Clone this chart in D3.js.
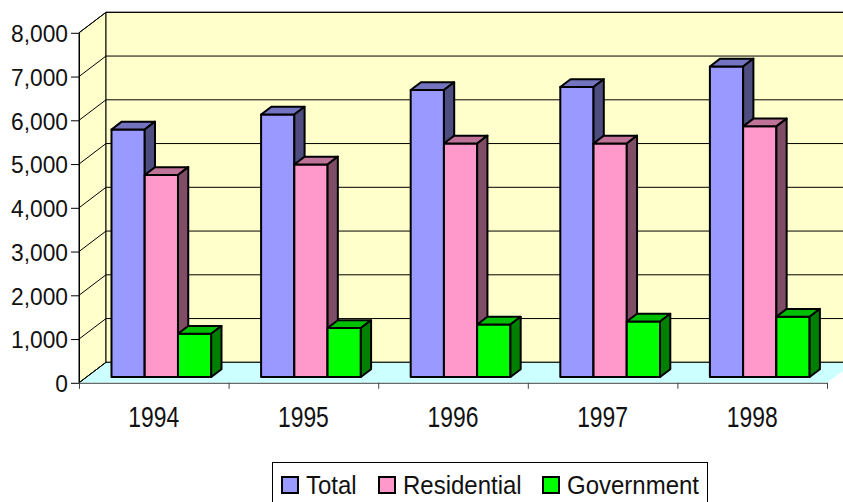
<!DOCTYPE html>
<html>
<head>
<meta charset="utf-8">
<script src="https://cdn.jsdelivr.net/npm/d3@7"></script>
<style>
  body { margin: 0; background: #fff; }
  svg { display: block; }
  text { font-family: "Liberation Sans", Arial, sans-serif; fill: #111; }
</style>
</head>
<body>
<svg id="chart" width="843" height="502"></svg>
<script>
// chart data
const years = ["1994", "1995", "1996", "1997", "1998"];
const seriesNames = ["Total", "Residential", "Government"];
const total = [5660, 6000, 6560, 6630, 7100];
const residential = [4620, 4860, 5340, 5340, 5730];
const government = [990, 1120, 1200, 1270, 1380];
const yTicks = [0, 1000, 2000, 3000, 4000, 5000, 6000, 7000, 8000];

const seriesValues = [total, residential, government];
const colors = ["#9999FF", "#FF99CC", "#00FF00"];

const svg = d3.select("#chart");

// oblique depth of the plot box
const DX = 27, DY = 20.5;
const P = (x, y, z) => [x + DX * z, y - DY * z];

const x0 = d3.scaleBand().domain(years).range([79, 827]).paddingInner(0).paddingOuter(0);
const x1 = d3.scaleBand().domain(seriesNames).range([0, x0.bandwidth()])
  .paddingInner(0).paddingOuter(0.75);
const y = d3.scaleLinear().domain([0, 8000]).range([382.8, 32.8]);

const left = x0.range()[0], right = x0.range()[1];
const yMin = y(0), yMax = y(8000);
const poly = pts => pts.map(p => p.join(",")).join(" ");

// side wall
svg.append("polygon")
  .attr("points", poly([P(left, yMax, 0), P(left, yMax, 1), P(left, yMin, 1), P(left, yMin, 0)]))
  .attr("fill", "#FFFFCC").attr("stroke", "#000").attr("stroke-width", 1);

// back wall
svg.append("polygon")
  .attr("points", poly([P(left, yMax, 1), P(right, yMax, 1), P(right, yMin, 1), P(left, yMin, 1)]))
  .attr("fill", "#FFFFCC").attr("stroke", "#000").attr("stroke-width", 1);

// floor
svg.append("polygon")
  .attr("points", poly([P(left, yMin, 0), P(left, yMin, 1), P(right, yMin, 1), P(right, yMin, 0)]))
  .attr("fill", "#CCFFFF").attr("stroke", "none");

// gridlines on back and side walls
const grid = svg.append("g").attr("stroke", "#000").attr("stroke-width", 1).attr("fill", "none");
yTicks.forEach(t => {
  const a = P(left, y(t), 0), b = P(left, y(t), 1), c = P(right, y(t), 1);
  grid.append("polyline").attr("points", poly([a, b, c]));
});

// floor left edge
svg.append("line")
  .attr("x1", P(left, yMin, 0)[0]).attr("y1", P(left, yMin, 0)[1])
  .attr("x2", P(left, yMin, 1)[0]).attr("y2", P(left, yMin, 1)[1])
  .attr("stroke", "#000");

// bars
const z0 = 0.28, z1 = 0.66;
const shade = (c, k) => {
  const r = d3.rgb(c);
  return d3.rgb(r.r * k, r.g * k, r.b * k).formatHex();
};

const bars = svg.append("g").attr("stroke", "#000").attr("stroke-width", 2).attr("stroke-linejoin", "round");
years.forEach((yr, i) => {
  seriesNames.forEach((s, j) => {
    const v = seriesValues[j][i];
    const xa = x0(yr) + x1(s), xb = xa + x1.bandwidth();
    const yt = y(v), yb = y(0);
    const g = bars.append("g");
    g.append("polygon")
      .attr("points", poly([P(xa, yt, z0), P(xb, yt, z0), P(xb, yb, z0), P(xa, yb, z0)]))
      .attr("fill", colors[j]);
    g.append("polygon")
      .attr("points", poly([P(xa, yt, z0), P(xa, yt, z1), P(xb, yt, z1), P(xb, yt, z0)]))
      .attr("fill", shade(colors[j], 0.75));
    g.append("polygon")
      .attr("points", poly([P(xb, yt, z0), P(xb, yt, z1), P(xb, yb, z1), P(xb, yb, z0)]))
      .attr("fill", shade(colors[j], 0.5));
  });
});

// y axis
const yAxis = svg.append("g")
  .attr("transform", `translate(${left},0)`)
  .call(d3.axisLeft(y).tickValues(yTicks).tickFormat(d3.format(",")).tickSize(8).tickPadding(3).tickSizeOuter(0));
yAxis.select(".domain").attr("stroke", "#000");
yAxis.selectAll(".tick line").attr("stroke", "#000");
yAxis.selectAll("text")
  .style("font-size", "22.8px")
  .attr("dy", "0.36em")
  .attr("transform", "scale(1,1.085)");

// x axis: boundary ticks and labels
const xb = d3.scaleLinear().domain([0, years.length]).range([left, right]);
const xAxis = svg.append("g")
  .attr("transform", `translate(0,${yMin})`)
  .call(d3.axisBottom(xb).tickValues(d3.range(years.length + 1)).tickFormat("").tickSize(6).tickSizeOuter(0));
xAxis.select(".domain").attr("stroke", "#444");
xAxis.selectAll(".tick line").attr("stroke", "#444");

const xLabels = svg.append("g")
  .attr("transform", "translate(0,405)")
  .call(d3.axisBottom(x0).tickSize(0).tickPadding(0));
xLabels.select(".domain").remove();
xLabels.selectAll("text")
  .style("font-size", "22.9px")
  .attr("y", 0)
  .attr("dy", "0.72em")
  .attr("transform", "scale(1,1.32)");

// legend
const legend = svg.append("g");
legend.append("rect")
  .attr("x", 272.5).attr("y", 462.5).attr("width", 435).attr("height", 60)
  .attr("fill", "#fff").attr("stroke", "#000");
const legendX = [282, 379, 543];
seriesNames.forEach((s, j) => {
  legend.append("rect")
    .attr("x", legendX[j]).attr("y", 477).attr("width", 16).attr("height", 16)
    .attr("fill", colors[j]).attr("stroke", "#000").attr("stroke-width", 2);
  legend.append("text")
    .attr("transform", `translate(${legendX[j] + 24},494) scale(1,1.09)`)
    .style("font-size", "24px")
    .text(s);
});
</script>
</body>
</html>
